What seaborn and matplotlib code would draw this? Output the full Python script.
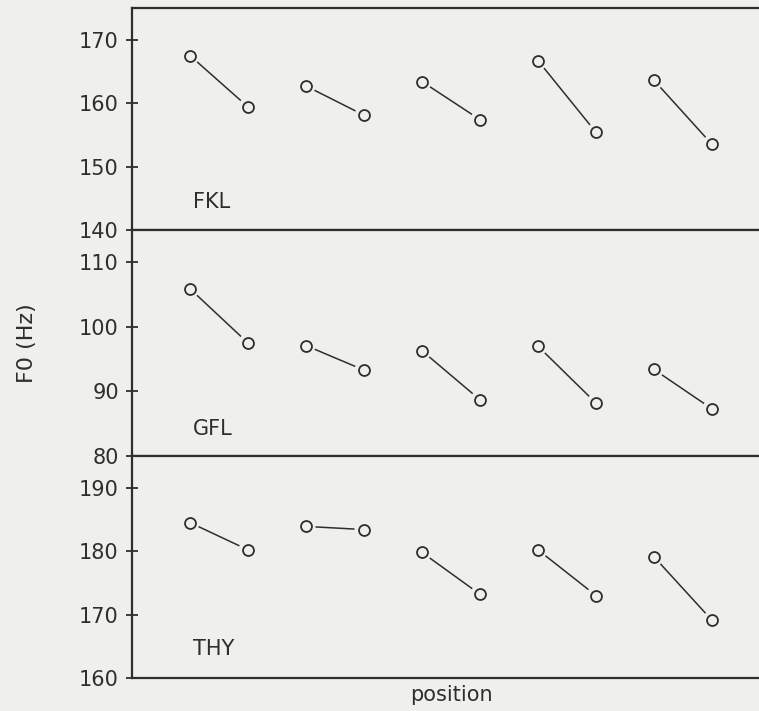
import numpy as np
import pandas as pd
import matplotlib
matplotlib.use("Agg")
import matplotlib.pyplot as plt
import seaborn as sns

# ---- data ----
positions = [1, 2, 3, 4, 5, 6, 7, 8, 9, 10]
fkl = [167.5, 159.4, 162.7, 158.1, 163.4, 157.4, 166.7, 155.4, 163.6, 153.5]
gfl = [105.9, 97.5, 97.1, 93.3, 96.3, 88.7, 97.0, 88.2, 93.4, 87.3]
thy = [184.5, 180.2, 183.9, 183.4, 179.8, 173.2, 180.2, 173.0, 179.1, 169.1]
speakers = ["FKL", "GFL", "THY"]
yticks_fkl = [140, 150, 160, 170]
yticks_gfl = [80, 90, 100, 110]
yticks_thy = [160, 170, 180, 190]

bg = "#efefec"
ink = "#2e2e2e"
fs = 15

sns.set_theme(style="white")
plt.rcParams["font.family"] = ["DejaVu Sans"]

W, H = 759, 711
fig = plt.figure(figsize=(W / 100, H / 100), dpi=100, facecolor=bg)

left_px = 132
px_per_unit = 58
x0 = 0.0
x1 = 12.0
width_px = (x1 - x0) * px_per_unit

panels = [
    ("FKL", fkl, (140, 175), yticks_fkl, 8, 230, 144.4),
    ("GFL", gfl, (80, 115), yticks_gfl, 230, 456, 84.2),
    ("THY", thy, (160, 195), yticks_thy, 456, 678, 164.6),
]

axes = []
for name, vals, ylim, yt, top_px, bot_px, lab_y in panels:
    ax = fig.add_axes([left_px / W, 1 - bot_px / H, width_px / W, (bot_px - top_px) / H])
    ax.set_facecolor(bg)
    df = pd.DataFrame({"pos": positions, "f0": vals})
    df["pair"] = (df["pos"] - 1) // 2
    sns.lineplot(data=df, x="pos", y="f0", units="pair", estimator=None,
                 color=ink, linewidth=1.1, ax=ax, legend=False, zorder=2)
    # halo to leave a gap between line and circle
    ax.scatter(df["pos"], df["f0"], s=190, color=bg, edgecolors="none", zorder=3)
    sns.scatterplot(data=df, x="pos", y="f0", ax=ax, marker="o", s=62,
                    facecolor=bg, edgecolor=ink, linewidth=1.3, zorder=4, legend=False)
    ax.set_xlim(x0, x1)
    ax.set_ylim(*ylim)
    ax.set_yticks(yt)
    ax.set_yticklabels([str(v) for v in yt], fontsize=fs, color=ink)
    ax.set_xticks([])
    ax.tick_params(axis="y", direction="inout", length=8, width=1.3, color=ink, pad=5.5, left=True)
    for s in ["left", "bottom", "top", "right"]:
        ax.spines[s].set_color(ink)
        ax.spines[s].set_linewidth(1.6)
    ax.set_xlabel("")
    ax.set_ylabel("")
    ax.text(1.05, lab_y, name, fontsize=fs, color=ink, ha="left", va="center")
    axes.append(ax)

axes[1].set_ylabel("F0 (Hz)", fontsize=16, color=ink)
axes[1].yaxis.set_label_coords(-(left_px - 37) / width_px, 0.5)
axes[2].set_xlabel("position", fontsize=fs, color=ink)
axes[2].xaxis.label.set_verticalalignment("center")
axes[2].xaxis.set_label_coords((451 - left_px) / width_px, -17 / 222)

fig.savefig("out.png", dpi=100, facecolor=bg)
